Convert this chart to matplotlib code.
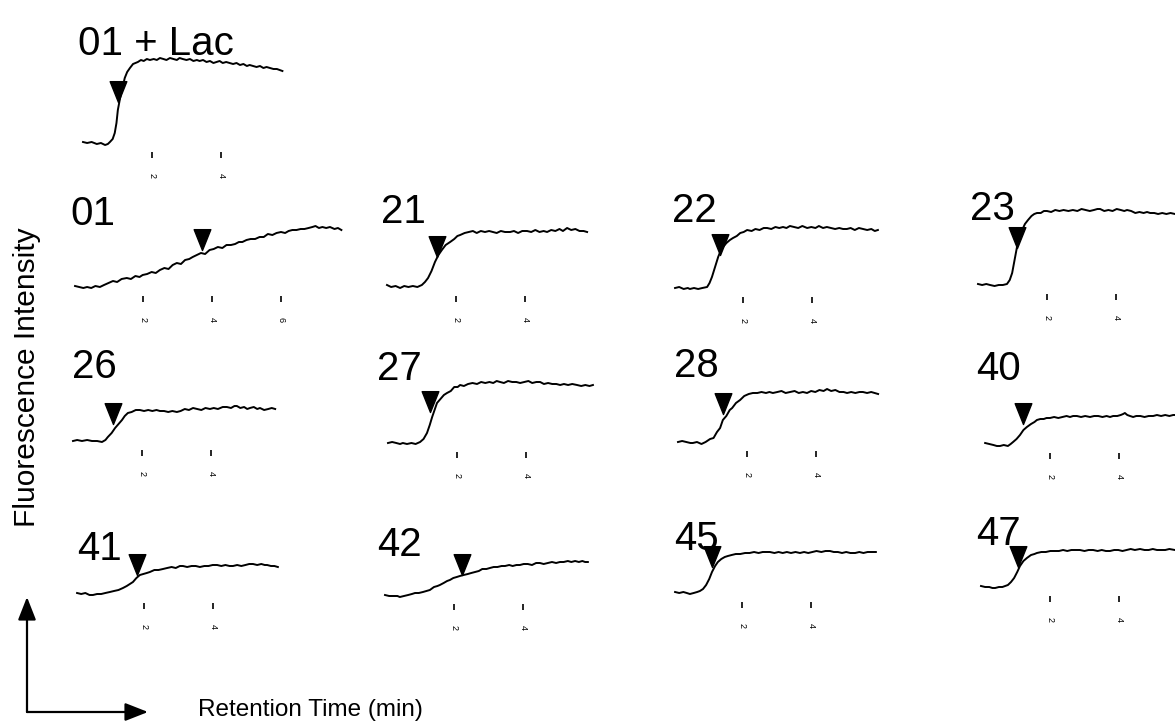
import numpy as np
import matplotlib.pyplot as plt
from matplotlib.path import Path
from matplotlib.patches import FancyArrowPatch

plt.rcParams['font.family'] = ['Liberation Sans', 'DejaVu Sans']

# ---- traces: (retention time in min, fluorescence a.u.) ----
trace_lac = np.array([
    (0.00, 1), (0.12, 0), (0.25, 1), (0.40, -1), (0.52, 0), (0.64, -2), (0.72, -1), (0.78, 1),
    (0.86, 4), (0.92, 10), (0.97, 20), (1.01, 33), (1.07, 44), (1.13, 53), (1.21, 65), (1.28, 71),
    (1.36, 75), (1.45, 79), (1.52, 80), (1.59, 81), (1.68, 83), (1.76, 82), (1.85, 84), (1.94, 83),
    (2.05, 84), (2.14, 83), (2.23, 85), (2.33, 84), (2.42, 83), (2.52, 85), (2.62, 84), (2.72, 83),
    (2.80, 85), (2.89, 84), (3.00, 83), (3.10, 84), (3.20, 82), (3.30, 83), (3.38, 82), (3.48, 83),
    (3.58, 81), (3.68, 82), (3.78, 80), (3.87, 81), (3.96, 82), (4.05, 80), (4.15, 81), (4.25, 80),
    (4.35, 79), (4.45, 80), (4.55, 78), (4.65, 79), (4.75, 77), (4.83, 78), (4.93, 77), (5.03, 76),
    (5.13, 77), (5.23, 75), (5.32, 76), (5.42, 75), (5.52, 74), (5.62, 74), (5.70, 73), (5.78, 72)])

trace_01 = np.array([
    (0.03, 1), (0.15, 0), (0.27, -1), (0.38, 0), (0.50, -1), (0.62, 1), (0.75, 0), (0.87, 2),
    (1.00, 4), (1.13, 6), (1.25, 5), (1.38, 8), (1.53, 9), (1.65, 8), (1.78, 11), (1.90, 10),
    (1.99, 12), (2.12, 13), (2.25, 15), (2.37, 14), (2.49, 17), (2.62, 19), (2.74, 18), (2.86, 22),
    (2.98, 24), (3.10, 23), (3.22, 27), (3.34, 28), (3.44, 30), (3.56, 32), (3.68, 34), (3.80, 33),
    (3.93, 37), (4.05, 38), (4.17, 40), (4.30, 39), (4.42, 42), (4.55, 42), (4.67, 43), (4.78, 45),
    (4.88, 45), (5.00, 47), (5.12, 48), (5.25, 48), (5.38, 50), (5.50, 50), (5.62, 53), (5.75, 52),
    (5.87, 54), (6.00, 55), (6.12, 54), (6.22, 56), (6.33, 57), (6.45, 57), (6.57, 58), (6.68, 58),
    (6.80, 59), (6.91, 60), (7.00, 61), (7.10, 59), (7.20, 60), (7.31, 59), (7.42, 60), (7.55, 58),
    (7.65, 59), (7.75, 57)])

trace_21 = np.array([
    (0.00, 2), (0.12, 0), (0.25, 1), (0.38, -1), (0.50, 1), (0.62, 0), (0.75, 1), (0.88, 0),
    (1.01, 2), (1.10, 5), (1.19, 9), (1.29, 16), (1.39, 25), (1.49, 32), (1.59, 37), (1.70, 42),
    (1.83, 45), (1.95, 48), (2.04, 51), (2.12, 52), (2.25, 54), (2.37, 55), (2.49, 56), (2.60, 54),
    (2.72, 56), (2.84, 55), (2.96, 56), (3.07, 55), (3.18, 54), (3.30, 56), (3.42, 55), (3.57, 55),
    (3.68, 56), (3.80, 54), (3.92, 56), (4.06, 56), (4.18, 55), (4.30, 57), (4.42, 55), (4.54, 56),
    (4.64, 55), (4.76, 57), (4.88, 56), (5.00, 58), (5.10, 56), (5.22, 59), (5.34, 57), (5.46, 58),
    (5.58, 56), (5.70, 56), (5.80, 55)])

trace_22 = np.array([
    (0.03, 0), (0.15, 1), (0.28, -1), (0.40, 0), (0.46, -1), (0.58, 0), (0.70, -1), (0.82, 0),
    (0.96, 1), (1.03, 5), (1.10, 11), (1.19, 21), (1.28, 31), (1.35, 37), (1.42, 41), (1.52, 45),
    (1.62, 48), (1.71, 50), (1.82, 52), (1.92, 55), (2.02, 56), (2.12, 58), (2.25, 57), (2.36, 59),
    (2.48, 58), (2.60, 60), (2.70, 60), (2.82, 59), (2.94, 61), (3.05, 60), (3.16, 61), (3.26, 60),
    (3.36, 62), (3.48, 61), (3.60, 60), (3.72, 62), (3.86, 60), (3.98, 61), (4.10, 60), (4.20, 62),
    (4.32, 60), (4.43, 61), (4.55, 60), (4.67, 59), (4.79, 60), (4.90, 59), (5.01, 59), (5.12, 60),
    (5.24, 58), (5.36, 60), (5.48, 59), (5.60, 58), (5.72, 59), (5.82, 57), (5.91, 58)])

trace_23 = np.array([
    (0.00, 1), (0.12, 0), (0.24, 1), (0.35, 0), (0.48, -1), (0.60, 0), (0.72, 0), (0.84, 1),
    (0.92, 5), (0.99, 12), (1.06, 25), (1.13, 38), (1.20, 48), (1.28, 55), (1.36, 61), (1.45, 65),
    (1.55, 69), (1.63, 71), (1.71, 72), (1.82, 72), (1.91, 74), (2.00, 74), (2.12, 73), (2.24, 75),
    (2.36, 74), (2.48, 75), (2.62, 74), (2.75, 75), (2.88, 74), (3.00, 76), (3.12, 75), (3.24, 74),
    (3.36, 75), (3.46, 76), (3.54, 76), (3.66, 74), (3.78, 75), (3.90, 74), (4.02, 76), (4.14, 75),
    (4.24, 74), (4.32, 75), (4.44, 74), (4.56, 72), (4.68, 73), (4.80, 72), (4.90, 73), (4.99, 72),
    (5.11, 72), (5.22, 71), (5.34, 72), (5.46, 71), (5.58, 72), (5.71, 71), (5.82, 72), (5.95, 71)])

trace_26 = np.array([
    (0.00, 0), (0.12, 1), (0.26, 0), (0.41, 1), (0.55, 0), (0.70, 0), (0.84, -1), (0.94, 1),
    (1.01, 4), (1.12, 8), (1.22, 13), (1.32, 17), (1.42, 21), (1.50, 25), (1.59, 28), (1.70, 29),
    (1.82, 31), (1.94, 31), (2.06, 30), (2.18, 31), (2.30, 30), (2.42, 31), (2.52, 30), (2.64, 30),
    (2.76, 29), (2.88, 30), (3.01, 29), (3.12, 30), (3.24, 32), (3.36, 31), (3.48, 33), (3.60, 32),
    (3.72, 31), (3.84, 33), (3.97, 32), (4.08, 33), (4.20, 32), (4.34, 34), (4.46, 34), (4.58, 33),
    (4.68, 35), (4.75, 35), (4.85, 33), (4.96, 34), (5.05, 32), (5.13, 33), (5.24, 34), (5.34, 32),
    (5.42, 33), (5.54, 31), (5.66, 32), (5.76, 33), (5.86, 32)])

trace_27 = np.array([
    (0.00, 0), (0.12, 1), (0.24, 0), (0.35, -1), (0.43, 0), (0.55, -1), (0.68, 0), (0.80, -1),
    (0.93, 1), (1.03, 4), (1.13, 10), (1.21, 18), (1.28, 26), (1.35, 33), (1.42, 40), (1.52, 44),
    (1.62, 48), (1.71, 50), (1.82, 52), (1.92, 56), (2.02, 56), (2.09, 58), (2.20, 57), (2.32, 59),
    (2.45, 60), (2.58, 59), (2.70, 61), (2.82, 60), (2.94, 61), (3.05, 60), (3.15, 62), (3.25, 61),
    (3.36, 60), (3.48, 62), (3.60, 61), (3.72, 61), (3.83, 60), (3.95, 61), (4.07, 62), (4.18, 60),
    (4.30, 61), (4.41, 61), (4.52, 59), (4.64, 60), (4.76, 59), (4.88, 59), (4.99, 58), (5.10, 59),
    (5.22, 58), (5.34, 59), (5.48, 58), (5.60, 57), (5.72, 58), (5.84, 57), (5.94, 58)])

trace_28 = np.array([
    (0.00, 0), (0.12, 1), (0.24, 0), (0.36, -1), (0.43, -1), (0.55, 0), (0.68, -2), (0.80, 0),
    (0.93, 3), (1.03, 4), (1.13, 10), (1.22, 14), (1.30, 22), (1.40, 26), (1.50, 32), (1.57, 34),
    (1.68, 39), (1.80, 42), (1.92, 46), (2.05, 48), (2.17, 49), (2.30, 49), (2.42, 50), (2.55, 49),
    (2.65, 50), (2.75, 49), (2.88, 50), (3.00, 51), (3.12, 49), (3.25, 50), (3.38, 51), (3.50, 49),
    (3.62, 50), (3.74, 49), (3.86, 51), (3.98, 50), (4.10, 52), (4.22, 51), (4.32, 53), (4.44, 51),
    (4.56, 52), (4.68, 50), (4.80, 50), (4.90, 49), (5.02, 50), (5.14, 49), (5.26, 50), (5.36, 50),
    (5.48, 49), (5.60, 50), (5.70, 49), (5.80, 48)])

trace_40 = np.array([
    (0.12, 1), (0.24, 0), (0.36, -1), (0.46, -2), (0.55, -2), (0.66, -1), (0.78, -2), (0.86, 0),
    (0.93, 2), (1.03, 5), (1.13, 9), (1.23, 14), (1.33, 17), (1.45, 20), (1.55, 22), (1.62, 24),
    (1.72, 25), (1.82, 25), (1.90, 26), (2.00, 26), (2.12, 27), (2.24, 26), (2.36, 27), (2.48, 28),
    (2.58, 27), (2.67, 28), (2.78, 28), (2.90, 27), (3.02, 28), (3.16, 27), (3.28, 28), (3.40, 28),
    (3.52, 27), (3.64, 28), (3.74, 27), (3.83, 28), (3.95, 28), (4.05, 29), (4.12, 30), (4.17, 31),
    (4.24, 29), (4.32, 28), (4.41, 27), (4.50, 28), (4.62, 28), (4.74, 27), (4.86, 28), (4.99, 28),
    (5.10, 29), (5.22, 28), (5.34, 29), (5.46, 28), (5.57, 29), (5.70, 29), (5.85, 28)])

trace_41 = np.array([
    (0.06, 1), (0.18, 0), (0.30, 1), (0.42, -1), (0.52, -1), (0.64, 0), (0.76, 0), (0.88, 1),
    (1.01, 2), (1.13, 3), (1.26, 4), (1.39, 6), (1.50, 8), (1.59, 10), (1.68, 12), (1.78, 16),
    (1.88, 19), (1.98, 20), (2.08, 21), (2.17, 22), (2.30, 24), (2.42, 24), (2.55, 25), (2.67, 26),
    (2.80, 27), (2.92, 26), (3.04, 28), (3.13, 28), (3.25, 27), (3.38, 28), (3.50, 28), (3.62, 27),
    (3.75, 28), (3.87, 28), (3.99, 29), (4.12, 29), (4.24, 28), (4.36, 29), (4.48, 28), (4.58, 28),
    (4.70, 29), (4.82, 28), (4.94, 29), (5.05, 30), (5.16, 30), (5.28, 29), (5.40, 30), (5.50, 29),
    (5.57, 29), (5.68, 28), (5.78, 28), (5.88, 27)])

trace_42 = np.array([
    (0.00, 0), (0.12, -1), (0.25, -1), (0.36, -1), (0.43, -2), (0.55, -1), (0.67, 0), (0.78, 1),
    (0.87, 2), (0.98, 2), (1.10, 3), (1.20, 4), (1.30, 5), (1.42, 8), (1.52, 9), (1.59, 10),
    (1.70, 12), (1.80, 14), (1.88, 15), (1.98, 17), (2.08, 18), (2.17, 19), (2.28, 20), (2.40, 21),
    (2.50, 22), (2.61, 23), (2.72, 24), (2.82, 26), (2.94, 26), (3.04, 27), (3.15, 28), (3.26, 28),
    (3.38, 29), (3.48, 29), (3.60, 30), (3.70, 29), (3.81, 30), (3.91, 30), (4.02, 31), (4.14, 31),
    (4.26, 30), (4.38, 32), (4.49, 32), (4.60, 31), (4.72, 32), (4.84, 33), (4.96, 32), (5.07, 33),
    (5.18, 33), (5.30, 34), (5.40, 33), (5.51, 34), (5.62, 33), (5.72, 34), (5.80, 33), (5.88, 33)])

trace_45 = np.array([
    (0.06, 1), (0.18, 0), (0.30, 1), (0.40, 0), (0.49, -1), (0.60, 0), (0.70, 1), (0.78, 2),
    (0.87, 4), (0.96, 8), (1.05, 14), (1.13, 21), (1.22, 27), (1.30, 31), (1.40, 34), (1.50, 36),
    (1.59, 37), (1.70, 38), (1.82, 39), (1.95, 39), (2.09, 40), (2.22, 40), (2.35, 41), (2.48, 40),
    (2.60, 41), (2.70, 41), (2.81, 41), (2.94, 40), (3.06, 41), (3.18, 40), (3.30, 41), (3.42, 40),
    (3.55, 41), (3.68, 40), (3.80, 41), (3.92, 40), (4.04, 41), (4.16, 42), (4.30, 41), (4.42, 42),
    (4.55, 42), (4.66, 41), (4.78, 41), (4.90, 40), (5.02, 41), (5.14, 40), (5.28, 40), (5.40, 41),
    (5.52, 40), (5.64, 41), (5.76, 41), (5.88, 41)])

trace_47 = np.array([
    (0.00, 1), (0.12, 0), (0.24, 0), (0.33, -1), (0.41, -1), (0.52, 0), (0.62, 0), (0.70, 1),
    (0.78, 2), (0.87, 5), (0.96, 9), (1.05, 15), (1.13, 21), (1.23, 26), (1.33, 29), (1.45, 32),
    (1.55, 33), (1.62, 34), (1.75, 35), (1.88, 35), (2.01, 36), (2.14, 36), (2.26, 36), (2.38, 37),
    (2.50, 36), (2.62, 37), (2.74, 37), (2.87, 37), (3.00, 36), (3.12, 37), (3.25, 37), (3.38, 36),
    (3.50, 37), (3.62, 36), (3.74, 36), (3.86, 37), (3.98, 37), (4.10, 36), (4.22, 37), (4.34, 38),
    (4.46, 37), (4.61, 38), (4.74, 37), (4.86, 37), (4.98, 38), (5.10, 37), (5.22, 37), (5.34, 37),
    (5.46, 38), (5.62, 37), (5.75, 37), (5.90, 37)])

# arrow markers: (time, intensity at the tip)
arrow_pos = {
    '01 + Lac': (1.01, 41), '01': (3.70, 37), '21': (1.45, 30), '22': (1.33, 33), '23': (1.13, 37),
    '26': (1.16, 17), '27': (1.22, 31), '28': (1.30, 28), '40': (1.22, 20),
    '41': (1.80, 19), '42': (2.23, 20), '45': (1.13, 26), '47': (1.07, 20),
}

traces = {
    '01 + Lac': trace_lac, '01': trace_01, '21': trace_21, '22': trace_22, '23': trace_23,
    '26': trace_26, '27': trace_27, '28': trace_28, '40': trace_40,
    '41': trace_41, '42': trace_42, '45': trace_45, '47': trace_47,
}

# ---- layout (pixels): left edge at t=0, baseline, label x, label baseline ----
W, H = 1175, 725
PX_PER_MIN = 34.5
layout = {
    '01 + Lac': (83, 143, 78, 55),
    '01': (74, 287, 70, 225), '21': (387, 287, 381, 223),
    '22': (674, 288, 672, 222), '23': (978, 285, 970, 220),
    '26': (73, 441, 72, 378), '27': (388, 443, 377, 380),
    '28': (678, 442, 674, 377), '40': (981, 444, 976, 380),
    '41': (75, 594, 77, 560), '42': (385, 595, 377, 556),
    '45': (673, 593, 674, 550), '47': (981, 587, 976, 545),
}

tri = Path([(-0.44, 1.1), (0.44, 1.1), (0.0, 0.0), (-0.44, 1.1)],
           [Path.MOVETO, Path.LINETO, Path.LINETO, Path.CLOSEPOLY])

fig = plt.figure(figsize=(W / 100, H / 100), dpi=100)

for name, tr in traces.items():
    x0, base, lx, ly = layout[name]
    span = 8.0 if name == '01' else 7.0
    ax = fig.add_axes([x0 / W, 1 - (base + 15) / H, span * PX_PER_MIN / W, 100 / H])
    ax.set_xlim(0, span)
    ax.set_ylim(-15, 85)
    ax.plot(tr[:, 0], tr[:, 1], color='k', lw=1.4, clip_on=False)
    at, ai = arrow_pos[name]
    ax.plot([at], [ai], marker=tri, ms=30, color='k', ls='none', clip_on=False)
    ticks = [2, 4, 6] if name == '01' else [2, 4]
    ax.set_xticks(ticks)
    ax.set_xticklabels([str(t) for t in ticks], rotation=270)
    ax.tick_params(axis='x', direction='in', length=4, width=1.2, pad=11, labelsize=6.5)
    ax.set_yticks([])
    for s in ax.spines.values():
        s.set_visible(False)
    ax.patch.set_alpha(0)
    fig.text(lx / W, 1 - ly / H, name, fontsize=29, va='baseline', ha='left')

# axis hints
fig.text(27 / W, 1 - 377 / H, 'Fluorescence Intensity', rotation=90, fontsize=21.5,
         ha='center', va='center')
fig.text(198 / W, 1 - 716 / H, 'Retention Time (min)', fontsize=17.5, va='baseline', ha='left')

for end in [(27, 597), (148, 712)]:
    fig.add_artist(FancyArrowPatch((27 / W, 1 - 712 / H), (end[0] / W, 1 - end[1] / H),
                                   transform=fig.transFigure, arrowstyle='-|>,head_length=14,head_width=5.5',
                                   mutation_scale=1, lw=1.6, color='k', shrinkA=0, shrinkB=0))

fig.savefig('out.png', dpi=100)
